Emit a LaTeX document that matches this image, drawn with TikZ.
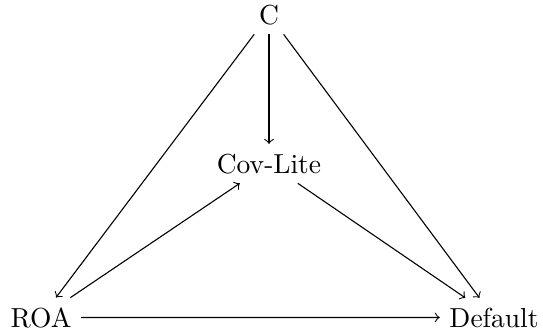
\documentclass[tikz,border=0pt]{standalone}
\begin{document}
\begin{tikzpicture}[x=0.3636pt,y=-0.3636pt,
  lbl/.style={anchor=base},
  arr/.style={->}]
\useasboundingbox (0,0) rectangle (543,333);
\node[lbl] (C) at (269,24) {C};
\node[lbl] (CL) at (269,173) {Cov-Lite};
\node[lbl] (ROA) at (41,327) {ROA};
\node[lbl] (D) at (494,327) {Default};
\draw[arr] (C) -- (CL);
\draw[arr] (C) -- (ROA);
\draw[arr] (C) -- (D);
\draw[arr] (ROA) -- (CL);
\draw[arr] (CL) -- (D);
\draw[arr] (ROA) -- (D);
\end{tikzpicture}
\end{document}
